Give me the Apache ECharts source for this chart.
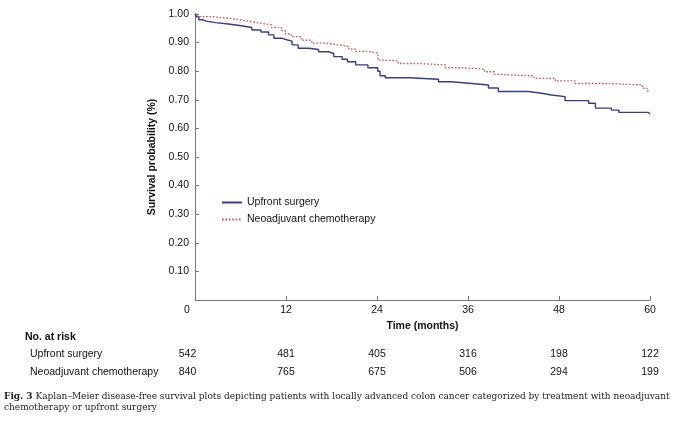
<!DOCTYPE html>
<html>
<head>
<meta charset="utf-8">
<script src="https://cdn.jsdelivr.net/npm/echarts@6/dist/echarts.min.js"></script>
<style>
html,body{margin:0;padding:0;background:#fff;}
#chart{width:680px;height:423px;}
</style>
</head>
<body>
<div id="chart"></div>
<script>
// ---- Data ----
const seriesNames = ['Upfront surgery', 'Neoadjuvant chemotherapy'];
const upfrontTime = [0,0.2,0.5,1.0,1.5,2.7,4.4,6.1,7.5,8.7,9.7,10.4,11.5,12.2,12.8,13.6,15.0,16.3,17.6,18.3,19.4,20.1,21.2,22.8,24.1,24.4,25.1,28.2,32.1,33.8,36.5,38.7,40.0,44.0,45.7,47.0,48.8,51.9,52.8,54.9,55.9,59.8,60];
const upfrontSurv = [1.0,0.99,0.98,0.975,0.970,0.965,0.959,0.953,0.944,0.937,0.927,0.915,0.909,0.905,0.892,0.880,0.876,0.868,0.862,0.851,0.842,0.833,0.822,0.812,0.800,0.784,0.777,0.772,0.763,0.757,0.752,0.741,0.729,0.723,0.717,0.711,0.697,0.688,0.671,0.664,0.656,0.650,0.650];
const neoTime = [0,0.3,2.2,4.4,6.1,7.5,8.8,10.1,11.4,11.9,12.7,14.0,15.4,17.2,19.0,20.3,21.2,22.8,24.1,24.4,26.8,29.5,33.0,35.2,38.2,39.5,40.1,44.7,47.5,50.1,54.1,59.0,59.6,60];
const neoSurv = [1.0,0.991,0.985,0.979,0.973,0.967,0.962,0.953,0.942,0.930,0.921,0.909,0.898,0.892,0.886,0.877,0.869,0.864,0.839,0.836,0.827,0.822,0.812,0.807,0.798,0.789,0.783,0.775,0.766,0.757,0.752,0.741,0.731,0.731];
const riskMonths = [0,12,24,36,48,60];
const upfrontAtRisk = [542,481,405,316,198,122];
const neoAtRisk = [840,765,675,506,294,199];
const riskTitle = 'No. at risk';
const xAxisTitle = 'Time (months)';
const yAxisTitle = 'Survival probability (%)';
const captionBold = 'Fig. 3';
const captionLine1 = ' Kaplan–Meier disease-free survival plots depicting patients with locally advanced colon cancer categorized by treatment with neoadjuvant';
const captionLine2 = 'chemotherapy or upfront surgery';

const SANS = '"Liberation Sans", Arial, Helvetica, sans-serif';
const SERIF = '"DejaVu Serif", "Liberation Serif", serif';
const BLUE = '#3b3b8a';
const RED = '#c4525a';

// caption font size chosen so line 1 spans the reference width
const measureCanvas = document.createElement('canvas').getContext('2d');
function captionWidth(size) {
  measureCanvas.font = 'bold ' + size + 'px ' + SERIF;
  let w = measureCanvas.measureText(captionBold).width;
  measureCanvas.font = size + 'px ' + SERIF;
  return w + measureCanvas.measureText(captionLine1).width;
}
const capSize = Math.round(10 * 664 / captionWidth(10) * 10) / 10;

const chart = echarts.init(document.getElementById('chart'), null, {renderer: 'canvas'});

const option = {
  animation: false,
  backgroundColor: '#ffffff',
  textStyle: {fontFamily: SANS},
  grid: {left: 195, right: 30, top: 14, bottom: 123, containLabel: false},
  legend: {
    show: true,
    orient: 'vertical', left: 221, top: 197, padding: 0,
    itemWidth: 20, itemHeight: 10, itemGap: 6,
    itemStyle: {color: 'rgba(0,0,0,0)', borderColor: 'rgba(0,0,0,0)', borderWidth: 0, opacity: 0},
    textStyle: {fontFamily: SANS, fontSize: 10.5, color: '#111'},
    data: seriesNames
  },
  xAxis: {
    type: 'value', min: 0, max: 60, interval: 12,
    name: xAxisTitle, nameLocation: 'middle', nameGap: 20,
    nameTextStyle: {fontFamily: SANS, fontSize: 10.5, fontWeight: 'bold', color: '#111'},
    axisLine: {show: true, lineStyle: {color: '#777', width: 1}},
    axisTick: {show: true, inside: true, length: 4, lineStyle: {color: '#777'}},
    axisLabel: {
      fontFamily: SANS, fontSize: 10.5, color: '#111', margin: 5,
      formatter: v => v === 0 ? '{z|0}' : String(v),
      rich: {z: {fontFamily: SANS, fontSize: 10.5, color: '#111', padding: [0, 16, 0, 0]}}
    },
    splitLine: {show: false}
  },
  yAxis: {
    type: 'value', min: 0, max: 1, interval: 0.1,
    name: yAxisTitle, nameLocation: 'middle', nameGap: 30,
    nameTextStyle: {fontFamily: SANS, fontSize: 10.5, fontWeight: 'bold', color: '#111'},
    axisLine: {show: true, lineStyle: {color: '#777', width: 1}},
    axisTick: {show: true, inside: true, length: 4, lineStyle: {color: '#777'}},
    axisLabel: {
      fontFamily: SANS, fontSize: 10.5, color: '#111', margin: 6,
      formatter: v => v === 0 ? '' : v.toFixed(2)
    },
    splitLine: {show: false}
  },
  series: [
    {
      name: seriesNames[0], type: 'line', step: 'end', symbol: 'none',
      data: upfrontTime.map((t, i) => [t, upfrontSurv[i]]),
      lineStyle: {color: BLUE, width: 1.4},
      itemStyle: {color: BLUE}, z: 3
    },
    {
      name: seriesNames[1], type: 'line', step: 'end', symbol: 'none',
      data: neoTime.map((t, i) => [t, neoSurv[i]]),
      lineStyle: {color: RED, width: 1.3, type: [1.6, 1.8]},
      itemStyle: {color: RED}, z: 2
    }
  ]
};
chart.setOption(option);

// ---- risk table and caption, positioned via the x scale ----
const graphics = [];
const txt = (x, y, text, opts) => ({
  type: 'text', x: x, y: y,
  style: Object.assign({text: text, fontFamily: SANS, fontSize: 10.5, fill: '#111',
    textAlign: 'left', textVerticalAlign: 'middle'}, opts || {})
});
graphics.push(txt(25, 337, riskTitle, {fontWeight: 'bold'}));
graphics.push(txt(30, 354, seriesNames[0]));
graphics.push(txt(30, 372, seriesNames[1]));
riskMonths.forEach((m, i) => {
  let px = chart.convertToPixel({xAxisIndex: 0}, m);
  if (m === 0) px -= 7.5;
  graphics.push(txt(px, 354, String(upfrontAtRisk[i]), {textAlign: 'center'}));
  graphics.push(txt(px, 372, String(neoAtRisk[i]), {textAlign: 'center'}));
});
graphics.push({
  type: 'text', x: 4, y: 397,
  style: {
    text: '{b|' + captionBold + '}{r|' + captionLine1 + '}',
    fontFamily: SERIF, fontSize: capSize, fill: '#222', textVerticalAlign: 'middle',
    rich: {
      b: {fontFamily: SERIF, fontSize: capSize, fontWeight: 'bold', fill: '#222'},
      r: {fontFamily: SERIF, fontSize: capSize, fill: '#222'}
    }
  }
});
graphics.push(txt(4, 408, captionLine2, {fontFamily: SERIF, fontSize: capSize, fill: '#222'}));
chart.setOption({graphic: graphics});
</script>
</body>
</html>
